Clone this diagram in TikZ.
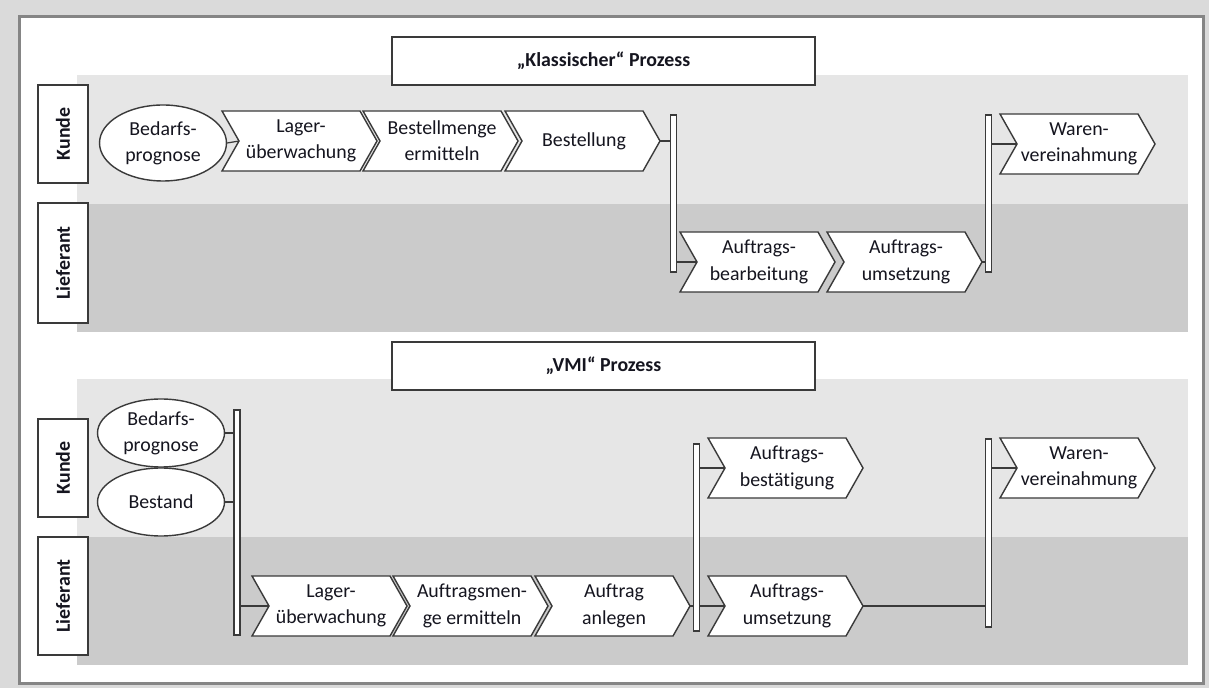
\documentclass[tikz,border=0pt]{standalone}
\usepackage{fontspec}
\setmainfont{Carlito}[Ligatures=NoCommon]
\usetikzlibrary{shapes.geometric}
\definecolor{bgout}{HTML}{DADADA}
\definecolor{framec}{HTML}{858585}
\definecolor{lanelight}{HTML}{E6E6E6}
\definecolor{lanedark}{HTML}{CBCBCB}
\definecolor{ink}{HTML}{15151F}
\definecolor{edge}{HTML}{3A3A3A}
\tikzset{
  txt/.style={text=ink, font=\fontsize{11.3}{15}\selectfont, align=center},
  box/.style={draw=edge, line width=0.8pt, fill=white, inner sep=0pt},
  titlebox/.style={box, minimum width=8.46cm, minimum height=0.96cm, txt, font=\fontsize{11.3}{15}\selectfont\bfseries},
  lanebox/.style={box, rotate=90, minimum height=1cm, txt, font=\fontsize{11.3}{15}\selectfont\bfseries},
  evt/.style={box, ellipse, txt, minimum width=2.54cm},
  chevline/.style={draw=edge, line width=0.8pt, fill=white, line join=miter},
  chevtext/.style={txt, inner sep=0pt},
  bar/.style={draw=edge, line width=0.7pt, fill=white, minimum width=0.12cm, inner sep=0pt},
  conn/.style={draw=edge, line width=0.7pt}
}
\newcommand\chev[4]{%
  \filldraw[chevline] (#2,#3-30) -- ++(138,0) -- ++(17,30) -- ++(-17,30) -- ++(-138,0) -- ++(17,-30) -- cycle;
  \coordinate (#1-in) at (#2+17,#3);
  \coordinate (#1-out) at (#2+155,#3);
  \node[chevtext] (#1) at (#2+79,#3) {#4};
}
\begin{document}
\begin{tikzpicture}[x=0.02cm,y=-0.02cm]
\useasboundingbox (0,0) rectangle (1209,688);
\fill[bgout] (0,0) rectangle (1209,688);
\filldraw[fill=white, draw=framec, line width=0.06cm] (19.5,16.5) rectangle (1203,683);

% ---------- Klassischer Prozess ----------
\fill[lanelight] (77,75) rectangle (1188,204);
\fill[lanedark] (77,204) rectangle (1188,332);
\node[titlebox] (t1) at (603.5,61) {„Klassischer“ Prozess};
\node[lanebox, minimum width=1.96cm] (k1) at (63,134) {Kunde};
\node[lanebox, minimum width=2.4cm] (l1) at (63,263) {Lieferant};

\node[evt, minimum height=1.52cm] (bp1) at (163,143) {Bedarfs-\\prognose};
\chev{lag1}{222}{141}{Lager-\\überwachung}
\chev{bm1}{363}{141}{Bestellmenge\\ermitteln}
\chev{bst1}{505}{141}{Bestellung}
\node[bar, minimum height=3.14cm] (b1) at (673.5,193.5) {};
\chev{ab1}{680}{262}{Auftrags-\\bearbeitung}
\chev{au1}{827}{262}{Auftrags-\\umsetzung}
\node[bar, minimum height=3.14cm] (b2) at (988.5,193.5) {};
\chev{wv1}{1000}{144}{Waren-\\vereinahmung}

\draw[conn] (bp1.east) -- (lag1-in);
\draw[conn] (bst1-out) -- (b1.west |- bst1-out);
\draw[conn] (b1.east |- ab1-in) -- (ab1-in);
\draw[conn] (au1-out) -- (b2.west |- au1-out);
\draw[conn] (b2.east |- wv1-in) -- (wv1-in);

% ---------- VMI Prozess ----------
\fill[lanelight] (77,379) rectangle (1188,537);
\fill[lanedark] (77,537) rectangle (1188,665);
\node[titlebox] (t2) at (603.5,366) {„VMI“ Prozess};
\node[lanebox, minimum width=1.96cm] (k2) at (63,468) {Kunde};
\node[lanebox, minimum width=2.36cm] (l2) at (63,596) {Lieferant};

\node[evt, minimum height=1.36cm] (bp2) at (161,433) {Bedarfs-\\prognose};
\node[evt, minimum height=1.36cm] (bs2) at (161,502) {Bestand};
\node[bar, minimum height=4.5cm] (b3) at (237,522.5) {};
\chev{lag2}{252}{606}{Lager-\\überwachung}
\chev{am2}{393}{606}{Auftragsmen-\\ge ermitteln}
\chev{an2}{535}{606}{Auftrag\\anlegen}
\node[bar, minimum height=3.74cm] (b4) at (696.5,537.5) {};
\chev{abs2}{708}{468}{Auftrags-\\bestätigung}
\chev{au2}{708}{606}{Auftrags-\\umsetzung}
\node[bar, minimum height=3.76cm] (b5) at (988.5,533) {};
\chev{wv2}{1000}{468}{Waren-\\vereinahmung}

\draw[conn] (bp2.east) -- (b3.west |- bp2.east);
\draw[conn] (bs2.east) -- (b3.west |- bs2.east);
\draw[conn] (b3.east |- lag2-in) -- (lag2-in);
\draw[conn] (an2-out) -- (b4.west |- an2-out);
\draw[conn] (b4.east |- abs2-in) -- (abs2-in);
\draw[conn] (b4.east |- au2-in) -- (au2-in);
\draw[conn] (au2-out) -- (b5.west |- au2-out);
\draw[conn] (b5.east |- wv2-in) -- (wv2-in);
\end{tikzpicture}
\end{document}
